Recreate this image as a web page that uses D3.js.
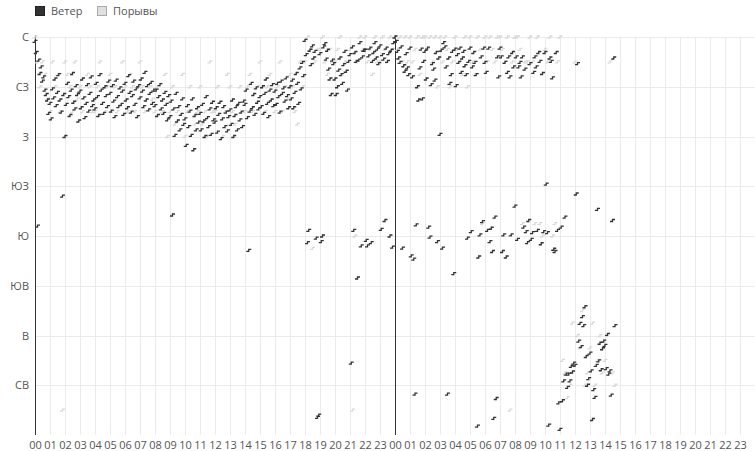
<!DOCTYPE html>
<html><head><meta charset="utf-8">
<script src="https://cdn.jsdelivr.net/npm/d3@7"></script>
<style>
body{margin:0;background:#fff;}
svg{display:block;font-family:"Open Sans","Noto Sans",sans-serif;}
</style></head>
<body><svg id="c" width="755" height="451"></svg>
<script>
// Direction labels (every 45°, from 45 up to 360)
const dirTicks = [45, 90, 135, 180, 225, 270, 315, 360];
const dirLabels = ["СВ", "В", "ЮВ", "Ю", "ЮЗ", "З", "СЗ", "С"];
const hourLabels = d3.range(0, 48).map(h => String(h % 24).padStart(2, "0"));
const seriesNames = ["Ветер", "Порывы"];

// Wind direction, day 1, every 5 minutes (12 per hour)
const wind1 = [
 356,346,189,339,327,333,320,324,312,308,303,291,
 300,286,313,305,322,298,310,326,303,292,216,308,
 270,299,318,306,289,312,327,301,295,316,308,284,
 311,296,322,305,287,300,317,293,309,324,298,303,
 295,318,306,289,326,312,300,291,315,307,297,320,
 309,293,316,302,288,321,306,297,314,299,311,290,
 318,303,296,325,310,292,307,320,299,313,288,316,
 305,322,311,297,328,303,316,294,309,319,300,312,
 298,312,289,306,317,295,303,291,310,299,285,307,
 288,302,199,295,271,309,284,297,276,290,304,281,
 286,262,298,279,293,271,304,258,289,276,296,283,
 291,276,299,284,270,306,287,279,295,272,301,285,
 283,296,274,290,301,268,286,297,279,292,275,288,
 294,281,303,270,289,297,276,300,285,292,279,302,
 299,312,287,167,293,318,296,308,290,314,301,295,
 306,297,315,291,309,322,300,288,312,303,317,298,
 311,299,318,306,292,320,309,314,302,323,307,296,
 315,304,321,296,310,327,318,300,332,313,337,325,
 357,344,174,185,348,335,352,341,347,178,16,18,
 345,175,180,351,354,340,348,331,322,308,339,336,
 322,308,315,330,341,326,318,335,347,329,312,338,
 344,65,351,185,346,338,142,339,355,171,342,348,
 348,176,171,343,350,174,338,346,355,341,349,336,
 352,186,344,340,194,350,338,345,180,348,170,355
];
// Wind direction, day 2, every 5 minutes (data ends ~14:40)
const wind2 = [
 360,356,347,341,337,351,169,334,329,345,332,326,
 350,162,324,159,37,190,315,303,332,349,304,338,
 347,322,350,188,179,317,336,331,321,346,175,341,
 272,348,169,355,351,333,37,341,318,326,347,146,
 349,316,344,337,350,328,341,347,334,326,178,338,
 350,184,333,346,337,326,8,161,181,342,193,350,
 337,328,185,350,175,187,166,15,197,33,342,324,
 350,342,166,181,337,161,328,342,324,181,346,333,
 207,342,177,333,337,324,342,188,331,184,174,194,
 336,177,183,328,342,333,185,346,338,173,327,184,
 346,227,183,9,341,338,323,168,166,346,185,29,
 5,188,31,49,197,55,43,55,49,62,57,65,
 63,218,336,85,101,80,107,99,116,71,45,51,
 74,58,14,41,34,63,204,67,83,59,78,85,
 81,60,91,55,58,36,194,341,99,null,null,null
];
// Gust direction, day 1, every 10 minutes (6 per hour)
const gust1 = [
 360,337.5,315,337.5,326.25,303.75,
 292.5,337.5,315,326.25,292.5,22.5,
 337.5,326.25,315,292.5,337.5,303.75,
 315,292.5,null,326.25,315,292.5,
 292.5,315,337.5,null,292.5,315,
 326.25,292.5,315,292.5,null,337.5,
 315,292.5,326.25,315,292.5,null,
 337.5,315,292.5,null,315,303.75,
 292.5,315,null,292.5,326.25,270,
 292.5,315,281.25,292.5,null,326.25,
 270,292.5,315,null,281.25,292.5,
 315,281.25,292.5,270,337.5,292.5,
 292.5,315,null,270,292.5,326.25,
 315,292.5,281.25,null,315,292.5,
 292.5,315,326.25,292.5,null,315,
 337.5,315,292.5,315,326.25,null,
 292.5,315,337.5,292.5,315,303.75,
 326.25,315,292.5,281.25,337.5,315,
 337.5,360,348.75,168.75,337.5,348.75,
 348.75,360,337.5,326.25,348.75,337.5,
 337.5,348.75,360,326.25,337.5,null,
 348.75,22.5,180,337.5,360,348.75,
 360,337.5,348.75,326.25,360,337.5,
 337.5,360,348.75,337.5,360,348.75
];
// Gust direction, day 2, every 10 minutes
const gust2 = [
 360,348.75,360,337.5,360,337.5,
 360,337.5,348.75,360,326.25,360,
 360,348.75,360,337.5,360,315,
 360,337.5,360,348.75,315,337.5,
 360,348.75,337.5,326.25,360,315,
 360,337.5,326.25,360,348.75,191.25,
 360,337.5,360,348.75,337.5,360,
 360,348.75,337.5,360,22.5,337.5,
 360,360,348.75,191.25,337.5,337.5,
 360,337.5,191.25,360,191.25,180,
 348.75,337.5,360,180,191.25,337.5,
 360,67.5,56.25,33.75,45,101.25,
 337.5,90,78.75,112.5,45,56.25,
 78.75,101.25,45,67.5,90,56.25,
 67.5,90,337.5,56.25,45,null
];

const svg = d3.select("#c");
const x = d3.scaleLinear().domain([0, 48]).range([35, 755]);
const y = d3.scaleLinear().domain([0, 360]).range([435, 37]);

const windPts = wind1.map((v, i) => ({t: i / 12, v}))
  .concat(wind2.map((v, i) => ({t: 24 + i / 12, v})))
  .filter(d => d.v != null);
const gustPts = gust1.map((v, i) => ({t: i / 6, v}))
  .concat(gust2.map((v, i) => ({t: 24 + i / 6, v})))
  .filter(d => d.v != null);

// grid
const g = svg.append("g");
g.selectAll("line.v").data(d3.range(1, 48)).join("line")
  .attr("x1", d => x(d) + 0.5).attr("x2", d => x(d) + 0.5)
  .attr("y1", y(360)).attr("y2", y(0))
  .attr("stroke", "#ebebeb").attr("stroke-width", 1);
g.selectAll("line.h").data(dirTicks).join("line")
  .attr("x1", x(0)).attr("x2", x(48))
  .attr("y1", d => Math.round(y(d)) + 0.5).attr("y2", d => Math.round(y(d)) + 0.5)
  .attr("stroke", "#ebebeb").attr("stroke-width", 1);

// axes
const xAxis = d3.axisBottom(x).tickValues(d3.range(0, 48))
  .tickFormat(d => hourLabels[d]).tickSize(0).tickPadding(6);
svg.append("g").attr("transform", `translate(0,${y(0)})`).call(xAxis)
  .call(a => a.select(".domain").remove())
  .selectAll("text").attr("fill", "#555").style("font-size", "11px")
  .style("font-family", "'Open Sans','Noto Sans',sans-serif");

const yAxis = d3.axisLeft(y).tickValues(dirTicks)
  .tickFormat(d => dirLabels[dirTicks.indexOf(d)]).tickSize(0).tickPadding(6);
svg.append("g").attr("transform", `translate(${x(0)},0)`).call(yAxis)
  .call(a => a.select(".domain").remove())
  .selectAll("text").attr("fill", "#555").style("font-size", "11px")
  .style("font-family", "'Open Sans','Noto Sans',sans-serif");

// left axis line and day separator
[0, 24].forEach(h => {
  svg.append("line").attr("x1", x(h) + 0.5).attr("x2", x(h) + 0.5)
    .attr("y1", y(360) - 2).attr("y2", y(0))
    .attr("stroke", "#333").attr("stroke-width", 1);
});

const mark = "M-2.5,1H0V-1H2.5";
svg.append("g").selectAll("path").data(gustPts).join("path")
  .attr("d", mark)
  .attr("transform", d => `translate(${x(d.t)},${y(d.v)})`)
  .attr("fill", "none").attr("stroke", "#d9d9d9").attr("stroke-width", 1.3);
svg.append("g").selectAll("path").data(windPts).join("path")
  .attr("d", mark)
  .attr("transform", d => `translate(${x(d.t)},${y(d.v)})`)
  .attr("fill", "none").attr("stroke", "#333").attr("stroke-width", 1.3);

// legend
const leg = svg.append("g");
const legItems = [
  {name: seriesNames[0], fill: "#333", stroke: "#222", x: 35},
  {name: seriesNames[1], fill: "#e0e0e0", stroke: "#aaa", x: 97}
];
legItems.forEach(it => {
  leg.append("rect").attr("x", it.x + 0.5).attr("y", 6.5).attr("width", 9).attr("height", 9)
    .attr("fill", it.fill).attr("stroke", it.stroke);
  leg.append("text").attr("x", it.x + 16).attr("y", 15).text(it.name)
    .attr("fill", "#555").style("font-size", "11px");
});
</script></body></html>
